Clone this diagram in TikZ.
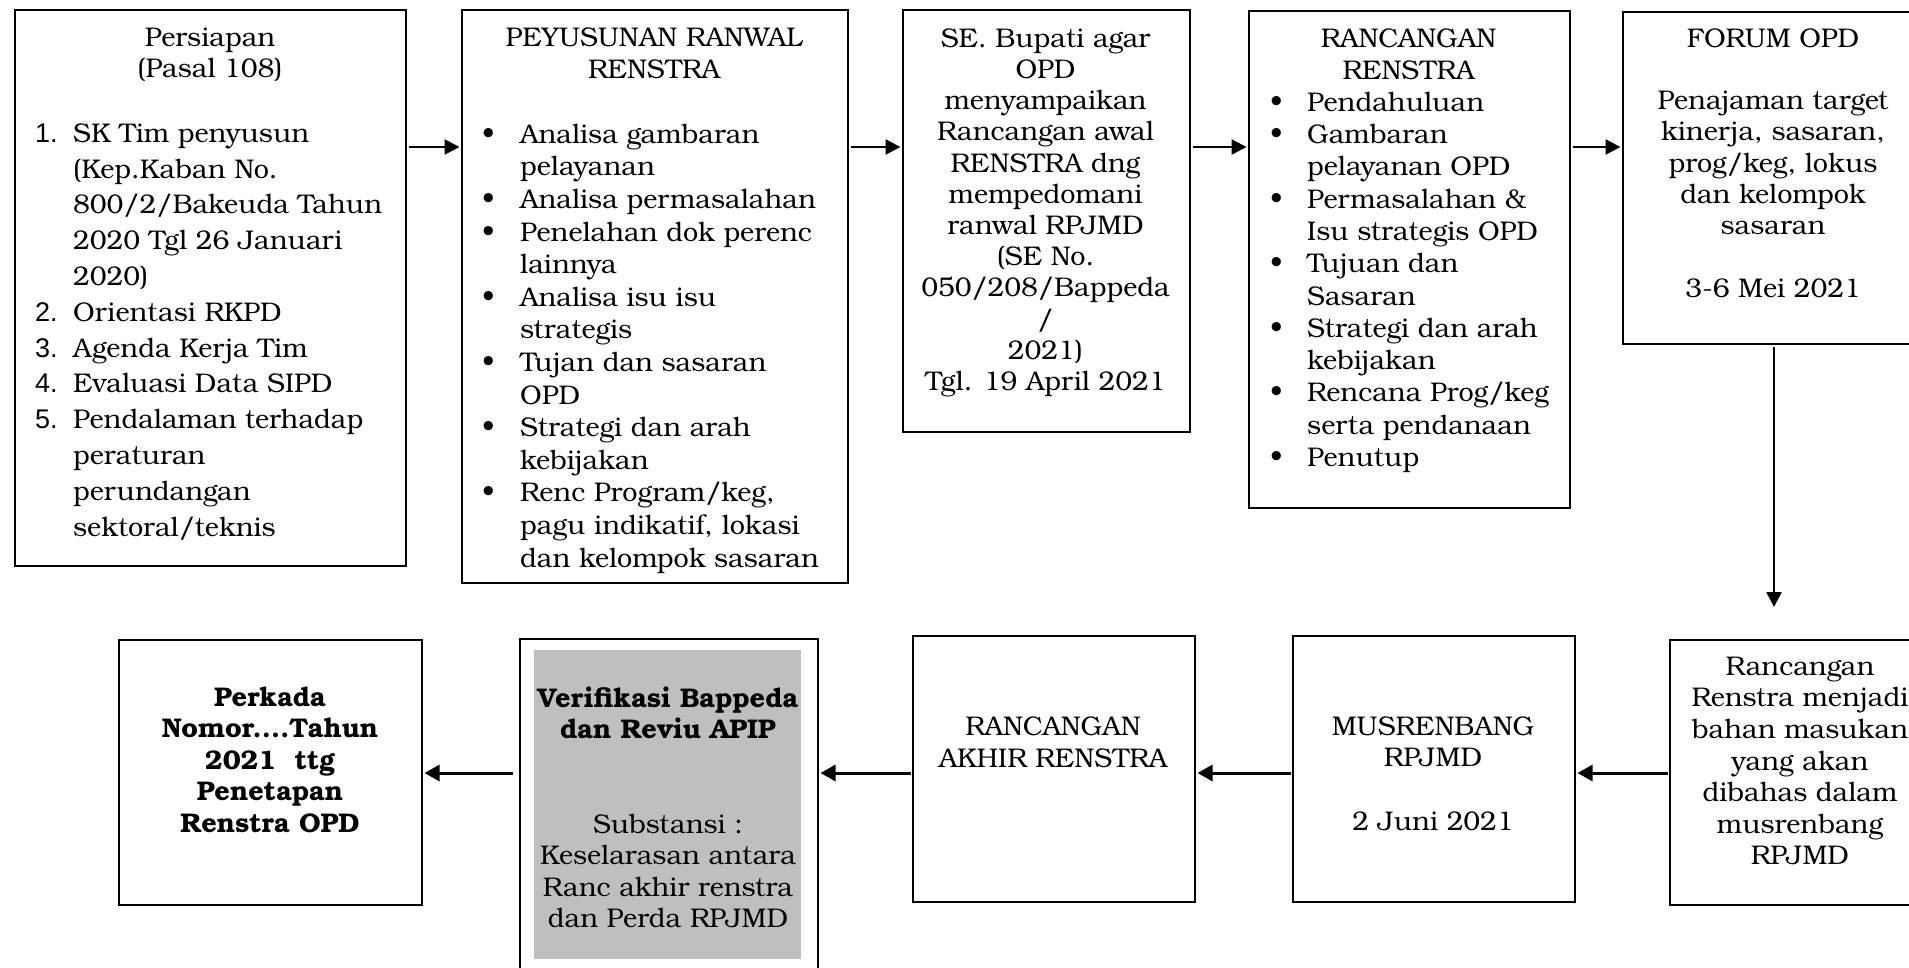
\documentclass[tikz,border=0pt]{standalone}
\usepackage{fontspec}
\setmainfont{texgyrebonum}[Extension=.otf,UprightFont=*-regular,BoldFont=*-bold,ItalicFont=*-italic,BoldItalicFont=*-bolditalic]
\newfontfamily\numfont{Liberation Sans}
\usetikzlibrary{arrows.meta,calc}
\definecolor{grayfill}{HTML}{BFBFBF}
\newcommand{\bul}[1]{\makebox[#1][l]{•}}
\newcommand{\num}[1]{\makebox[38pt][l]{\numfont #1}}
\begin{document}
\begin{tikzpicture}[x=1pt,y=-1pt,
  box/.style={draw=black,line width=2pt,inner sep=0pt,anchor=north west},
  shade/.style={fill=grayfill,draw=none,inner sep=0pt,anchor=north west},
  arr/.style={line width=2.5pt,shorten <=1.5pt,shorten >=1.5pt,-{Triangle[length=15pt,width=15pt]}},
  arrb/.style={line width=3pt,shorten <=1.5pt,shorten >=1.5pt,-{Triangle[length=15pt,width=16pt]}},
  txt/.style={inner sep=0pt,anchor=north,align=center,font=\fontsize{27}{#1}\selectfont},
  txtb/.style={inner sep=0pt,anchor=north,align=center,font=\fontsize{27}{#1}\selectfont\bfseries},
  lst/.style={inner sep=0pt,anchor=north west,align=left,font=\fontsize{27}{#1}\selectfont}]
\useasboundingbox (0,0) rectangle (1909,967);
\fill[white] (0,0) rectangle (1909,967);
\clip (0,0) rectangle (1909,967);

% ---------- top row boxes ----------
\node[box,minimum width=391pt,minimum height=556pt] (b1) at (14,9) {};
\node[box,minimum width=386pt,minimum height=573pt] (b2) at (461,9) {};
\node[box,minimum width=287pt,minimum height=422pt] (b3) at (902,9) {};
\node[box,minimum width=321pt,minimum height=497pt] (b4) at (1248,10) {};
\node[box,minimum width=302pt,minimum height=332pt] (b5) at (1622,11) {};

% ---------- bottom row boxes ----------
\node[box,minimum width=303pt,minimum height=265pt] (ba) at (118,639) {};
\node[box,minimum width=298pt,minimum height=340pt] (bb) at (519,638) {};
\node[shade,minimum width=267pt,minimum height=309pt] (bg) at (534,650) {};
\node[box,minimum width=282pt,minimum height=266pt] (bc) at (912,635) {};
\node[box,minimum width=282pt,minimum height=266pt] (bd) at (1292,635) {};
\node[box,minimum width=262pt,minimum height=265pt] (be) at (1669,639) {};

% ---------- texts: box 1 ----------
\node[txt=31.5] (t1h) at (210,{46-0.7*31.5}) {\strut Persiapan\\(Pasal 108)};
\node[lst=35.8] (t1l) at (35,{142-0.7*35.8}) {\strut\num{1.}SK Tim penyusun\\
\hspace*{38pt}(Kep.Kaban No.\\
\hspace*{38pt}800/2/Bakeuda Tahun\\
\hspace*{38pt}2020 Tgl 26 Januari\\
\hspace*{38pt}2020)\\
\num{2.}Orientasi RKPD\\
\num{3.}Agenda Kerja Tim\\
\num{4.}Evaluasi Data SIPD\\
\num{5.}Pendalaman terhadap\\
\hspace*{38pt}peraturan\\
\hspace*{38pt}perundangan\\
\hspace*{38pt}sektoral/teknis};

% ---------- texts: box 2 ----------
\node[txt=32] (t2h) at (654,{46-0.7*32}) {\strut PEYUSUNAN RANWAL\\RENSTRA};
\node[lst=32.6] (t2l) at (482,{143-0.7*32.6}) {\strut\bul{38pt}Analisa gambaran\\
\hspace*{38pt}pelayanan\\
\bul{38pt}Analisa permasalahan\\
\bul{38pt}Penelahan dok perenc\\
\hspace*{38pt}lainnya\\
\bul{38pt}Analisa isu isu\\
\hspace*{38pt}strategis\\
\bul{38pt}Tujan dan sasaran\\
\hspace*{38pt}OPD\\
\bul{38pt}Strategi dan arah\\
\hspace*{38pt}kebijakan\\
\bul{38pt}Renc Program/keg,\\
\hspace*{38pt}pagu indikatif, lokasi\\
\hspace*{38pt}dan kelompok sasaran};

% ---------- texts: box 3 ----------
\node[txt=31.2] (t3) at (1045.5,{47-0.7*31.2}) {\strut SE. Bupati agar\\OPD\\menyampaikan\\Rancangan awal\\RENSTRA dng\\mempedomani\\ranwal RPJMD\\(SE No.\\050/208/Bappeda\\/\\2021)\\Tgl. 19 April 2021};

% ---------- texts: box 4 ----------
\node[txt=32.3] (t4h) at (1408.5,{47-0.7*32.3}) {\strut RANCANGAN\\RENSTRA};
\node[lst=32.3] (t4l) at (1270,{111-0.7*32.3}) {\strut\bul{37pt}Pendahuluan\\
\bul{37pt}Gambaran\\
\hspace*{37pt}pelayanan OPD\\
\bul{37pt}Permasalahan \&\\
\hspace*{37pt}Isu strategis OPD\\
\bul{37pt}Tujuan dan\\
\hspace*{37pt}Sasaran\\
\bul{37pt}Strategi dan arah\\
\hspace*{37pt}kebijakan\\
\bul{37pt}Rencana Prog/keg\\
\hspace*{37pt}serta pendanaan\\
\bul{37pt}Penutup};

% ---------- texts: box 5 ----------
\node[txt=31.25] (t5) at (1773,{47-0.7*31.25}) {\strut FORUM OPD\\ \mbox{}\\Penajaman target\\kinerja, sasaran,\\prog/keg, lokus\\dan kelompok\\sasaran\\ \mbox{}\\3-6 Mei 2021};

% ---------- texts: bottom row ----------
\node[txtb=31.5] (ta) at (270,{706-0.7*31.5}) {\strut Perkada\\Nomor....Tahun\\2021\ \ ttg\\Penetapan\\Renstra OPD};
\node[txt=31.5] (tb) at (668,{707-0.7*31.5}) {\strut\textbf{Verifikasi Bappeda}\\\textbf{dan Reviu APIP}\\ \mbox{}\\ \mbox{}\\Substansi :\\Keselarasan antara\\Ranc akhir renstra\\dan Perda RPJMD};
\node[txt=32] (tc) at (1053,{735-0.7*32}) {\strut RANCANGAN\\AKHIR RENSTRA};
\node[txt=31.7] (td) at (1433,{735-0.7*31.7}) {\strut MUSRENBANG\\RPJMD\\ \mbox{}\\2 Juni 2021};
\node[txt=31.6] (te) at (1800,{675-0.7*31.6}) {\strut Rancangan\\Renstra menjadi\\bahan masukan\\yang akan\\dibahas dalam\\musrenbang\\RPJMD};

% ---------- connectors ----------
\coordinate (row1) at (0,147);
\coordinate (row2) at (0,773);
\coordinate (downend) at (1773,607);
\draw[arr] (b1.east |- row1) -- (b2.west |- row1);
\draw[arr] (b2.east |- row1) -- (b3.west |- row1);
\draw[arr] (b3.east |- row1) -- (b4.west |- row1);
\draw[arr] (b4.east |- row1) -- (b5.west |- row1);
\draw[arr,shorten >=0pt] (b5.south) -- (b5.south |- downend);
\draw[arrb] (be.west |- row2) -- (bd.east |- row2);
\draw[arrb] (bd.west |- row2) -- (bc.east |- row2);
\draw[arrb] (bc.west |- row2) -- (bb.east |- row2);
\draw[arrb,shorten <=6pt] (bb.west |- row2) -- (ba.east |- row2);
\end{tikzpicture}
\end{document}
